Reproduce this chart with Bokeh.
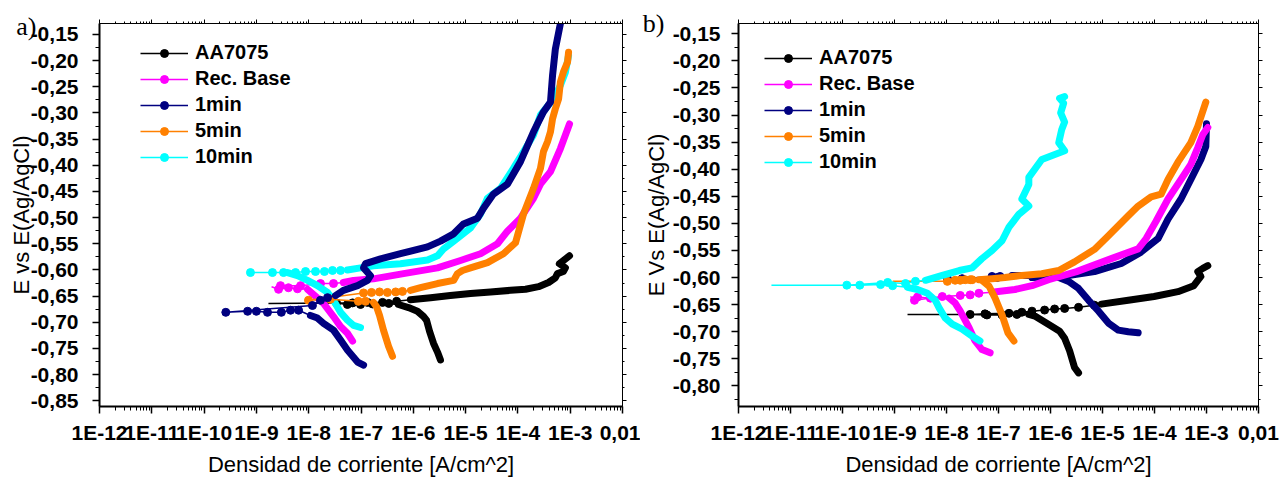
from bokeh.plotting import figure
from bokeh.layouts import row
from bokeh.models import (FixedTicker, CustomJSTickFormatter, LogAxis, LinearAxis,
                          Legend, LegendItem, Range1d)
from bokeh.embed import file_html
from bokeh.resources import INLINE

# ---------------- tick labels ----------------
X_TICKS = [1e-12, 1e-11, 1e-10, 1e-9, 1e-8, 1e-7, 1e-6, 1e-5, 1e-4, 1e-3, 1e-2]
X_TICK_LABELS = ["1E-12", "1E-11", "1E-10", "1E-9", "1E-8", "1E-7", "1E-6",
                 "1E-5", "1E-4", "1E-3", "0,01"]
Y_TICKS = [-0.85, -0.80, -0.75, -0.70, -0.65, -0.60, -0.55, -0.50, -0.45,
           -0.40, -0.35, -0.30, -0.25, -0.20, -0.15]

SERIES = ["AA7075", "Rec. Base", "1min", "5min", "10min"]
COLORS = ["#000000", "#FF00FF", "#000080", "#FF8000", "#00FFFF"]

# ---------------- panel a) data: (current A/cm2, E V) ----------------
A_AA7075_CATH = [(3.31e-6, -0.772), (2.90e-6, -0.757), (2.43e-6, -0.740), (2.04e-6, -0.717),
                 (1.79e-6, -0.696), (1.57e-6, -0.689), (1.20e-6, -0.679), (8.1e-7, -0.672),
                 (5.2e-7, -0.666)]
A_AA7075_CORR = [(3.4e-7, -0.664), (1.66e-7, -0.665), (9.8e-8, -0.666), (5.5e-8, -0.666),
                 (3.4e-8, -0.663), (6.9e-8, -0.663), (1.33e-7, -0.662), (2.58e-7, -0.662),
                 (4.8e-7, -0.660)]
A_AA7075_TAIL = (1.7e-9, -0.664)
A_AA7075_ANOD = [(8.8e-7, -0.657), (2.14e-6, -0.653), (5.1e-6, -0.649), (1.24e-5, -0.645),
                 (2.99e-5, -0.642), (7.2e-5, -0.639), (1.40e-4, -0.637), (2.48e-4, -0.632),
                 (3.85e-4, -0.624), (5.2e-4, -0.615), (5.7e-4, -0.607), (7.4e-4, -0.603),
                 (8.1e-4, -0.596), (6.2e-4, -0.588), (8.1e-4, -0.579), (9.7e-4, -0.573)]

A_REC_CATH = [(6.9e-8, -0.736), (5.5e-8, -0.721), (4.06e-8, -0.708), (2.98e-8, -0.689),
              (1.92e-8, -0.664), (1.24e-8, -0.647), (9.5e-9, -0.637)]
A_REC_CORR = [(6.1e-9, -0.636), (4.1e-9, -0.634), (2.65e-9, -0.637), (2.89e-9, -0.630),
              (7.0e-9, -0.630), (1.68e-8, -0.626), (2.98e-8, -0.626)]
A_REC_TAIL = (1.95e-9, -0.632)
A_REC_ANOD = [(4.6e-8, -0.624), (7.2e-8, -0.620), (1.73e-7, -0.617), (6.5e-7, -0.607),
              (2.90e-6, -0.596), (8.0e-6, -0.582), (1.93e-5, -0.569), (4.07e-5, -0.550),
              (6.3e-5, -0.526), (1.12e-4, -0.501), (1.99e-4, -0.463), (2.70e-4, -0.436),
              (4.2e-4, -0.412), (6.5e-4, -0.368), (8.1e-4, -0.342), (9.7e-4, -0.321)]

A_1MIN_CATH = [(1.12e-7, -0.782), (8.6e-8, -0.776), (5.5e-8, -0.753), (4.06e-8, -0.734),
               (2.98e-8, -0.715), (1.92e-8, -0.702), (1.47e-8, -0.692), (1.08e-8, -0.687)]
A_1MIN_CORR = [(6.4e-9, -0.677), (4.5e-9, -0.677), (3.0e-9, -0.681), (1.63e-9, -0.681),
               (1.0e-9, -0.679), (6.8e-10, -0.679), (2.6e-10, -0.681), (1.18e-8, -0.668),
               (1.68e-8, -0.658), (2.29e-8, -0.653)]
A_1MIN_TAIL = None
A_1MIN_ANOD = [(3.25e-8, -0.649), (4.6e-8, -0.639), (8.6e-8, -0.630), (1.33e-7, -0.620),
               (1.52e-7, -0.611), (1.12e-7, -0.596), (1.22e-7, -0.588), (2.36e-7, -0.579),
               (5.7e-7, -0.569), (1.87e-6, -0.556), (3.31e-6, -0.545), (5.9e-6, -0.531),
               (9.1e-6, -0.512), (1.69e-5, -0.501), (2.20e-5, -0.482), (3.41e-5, -0.455),
               (6.3e-5, -0.436), (1.12e-4, -0.393), (1.99e-4, -0.336), (3.08e-4, -0.298),
               (4.2e-4, -0.279), (4.6e-4, -0.228), (5.2e-4, -0.178), (6.5e-4, -0.129),
               (7.1e-4, -0.108)]

A_5MIN_CATH = [(4.0e-7, -0.765), (3.36e-7, -0.746), (2.69e-7, -0.715), (2.26e-7, -0.687),
               (1.98e-7, -0.670), (1.73e-7, -0.662)]
A_5MIN_CORR = [(1.22e-7, -0.660), (8.9e-8, -0.660), (2.6e-8, -0.656), (9.9e-9, -0.658),
               (1.12e-7, -0.644), (1.59e-7, -0.643), (2.26e-7, -0.642), (3.2e-7, -0.643),
               (4.6e-7, -0.642), (6.2e-7, -0.641)]
A_5MIN_TAIL = None
A_5MIN_ANOD = [(8.8e-7, -0.639), (1.37e-6, -0.634), (2.90e-6, -0.626), (5.9e-6, -0.620),
               (7.0e-6, -0.607), (8.7e-6, -0.601), (1.24e-5, -0.596), (2.62e-5, -0.586),
               (5.3e-5, -0.569), (9.0e-5, -0.548), (1.28e-4, -0.493), (1.99e-4, -0.444),
               (2.70e-4, -0.406), (3.08e-4, -0.374), (3.68e-4, -0.355), (4.2e-4, -0.336),
               (4.6e-4, -0.311), (5.2e-4, -0.292), (6.0e-4, -0.273), (6.5e-4, -0.241),
               (7.4e-4, -0.222), (8.9e-4, -0.203), (9.3e-4, -0.184)]

A_10MIN_CATH = [(9.8e-8, -0.710), (7.2e-8, -0.706), (5.5e-8, -0.696), (4.06e-8, -0.681),
                (2.98e-8, -0.658), (2.29e-8, -0.643), (1.47e-8, -0.630), (9.5e-9, -0.620),
                (6.1e-9, -0.611), (3.94e-9, -0.605)]
A_10MIN_CORR = [(3.3e-9, -0.605), (2.03e-9, -0.605), (7.7e-10, -0.605), (5.6e-9, -0.605),
                (8.7e-9, -0.603), (1.35e-8, -0.603), (2.0e-8, -0.603), (2.85e-8, -0.601),
                (4.06e-8, -0.601)]
A_10MIN_TAIL = None
A_10MIN_ANOD = [(5.5e-8, -0.600), (9.8e-8, -0.596), (1.73e-7, -0.592), (5.7e-7, -0.588),
                (1.87e-6, -0.581), (2.90e-6, -0.573), (3.78e-6, -0.560), (5.9e-6, -0.545),
                (1.24e-5, -0.520), (1.93e-5, -0.493), (2.62e-5, -0.463), (4.65e-5, -0.444),
                (8.2e-5, -0.406), (1.28e-4, -0.374), (1.99e-4, -0.342), (2.70e-4, -0.304),
                (4.8e-4, -0.273), (6.5e-4, -0.247), (8.1e-4, -0.222), (9.3e-4, -0.190)]

# ---------------- panel b) data ----------------
B_AA7075_CATH = [(3.46e-6, -0.776), (2.90e-6, -0.766), (2.33e-6, -0.735), (1.87e-6, -0.712),
                 (1.50e-6, -0.699), (1.05e-6, -0.690), (6.8e-7, -0.679), (5.0e-7, -0.671),
                 (3.83e-7, -0.668)]
B_AA7075_CORR = [(2.26e-7, -0.668), (1.17e-7, -0.669), (6.0e-8, -0.669), (2.85e-8, -0.668),
                 (5.5e-8, -0.667), (1.59e-7, -0.666), (2.81e-7, -0.664), (4.4e-7, -0.662),
                 (7.7e-7, -0.660), (1.20e-6, -0.658), (1.87e-6, -0.657), (3.46e-6, -0.655),
                 (7.0e-6, -0.651)]
B_AA7075_TAIL = (1.78e-9, -0.668)
B_AA7075_ANOD = [(9.5e-6, -0.649), (3.13e-5, -0.642), (9.8e-5, -0.635), (2.82e-4, -0.626),
                 (5.7e-4, -0.615), (7.8e-4, -0.598), (6.8e-4, -0.589), (8.5e-4, -0.583),
                 (1.06e-3, -0.578)]

B_REC_CATH = [(6.9e-8, -0.739), (4.8e-8, -0.733), (3.55e-8, -0.717), (2.73e-8, -0.693),
              (1.84e-8, -0.662), (1.47e-8, -0.647), (1.13e-8, -0.638)]
B_REC_CORR = [(4.9e-9, -0.638), (2.77e-9, -0.636), (2.42e-9, -0.642), (8.3e-9, -0.635),
              (1.84e-8, -0.633), (2.85e-8, -0.632), (4.2e-8, -0.629)]
B_REC_TAIL = (2.03e-9, -0.635)
B_REC_ANOD = [(7.5e-8, -0.627), (2.07e-7, -0.622), (4.4e-7, -0.615), (9.2e-7, -0.604),
              (3.17e-6, -0.589), (1.48e-5, -0.565), (4.85e-5, -0.547), (6.9e-5, -0.528),
              (1.07e-4, -0.496), (1.82e-4, -0.455), (3.23e-4, -0.419), (5.0e-4, -0.391),
              (6.8e-4, -0.360), (8.5e-4, -0.336), (1.06e-3, -0.323)]

B_1MIN_CATH = [(4.85e-5, -0.702), (3.13e-5, -0.700), (2.01e-5, -0.697), (1.30e-5, -0.684),
               (8.4e-6, -0.662), (5.4e-6, -0.642), (3.46e-6, -0.620), (2.23e-6, -0.607),
               (1.44e-6, -0.600), (7.7e-7, -0.596), (3.83e-7, -0.596), (1.81e-7, -0.596)]
B_1MIN_CORR = [(1.07e-7, -0.598), (7.5e-8, -0.598), (2.0e-8, -0.602), (1.04e-8, -0.602),
               (9.4e-8, -0.600)]
B_1MIN_TAIL = None
B_1MIN_ANOD = [(4.4e-7, -0.600), (1.64e-6, -0.598), (7.0e-6, -0.589), (2.30e-5, -0.574),
               (5.5e-5, -0.553), (1.17e-4, -0.528), (1.82e-4, -0.492), (3.23e-4, -0.455),
               (5.0e-4, -0.419), (7.8e-4, -0.382), (9.7e-4, -0.358), (1.0e-3, -0.316)]

B_5MIN_CATH = [(1.98e-7, -0.717), (1.52e-7, -0.702), (1.17e-7, -0.669), (8.6e-8, -0.638),
               (6.6e-8, -0.616), (4.8e-8, -0.605)]
B_5MIN_CORR = [(2.85e-8, -0.604), (1.84e-8, -0.605), (1.04e-8, -0.607), (1.47e-8, -0.605),
               (2.29e-8, -0.604), (3.1e-8, -0.604)]
B_5MIN_TAIL = (9.2e-10, -0.607)
B_5MIN_ANOD = [(4.2e-8, -0.604), (7.5e-8, -0.602), (1.33e-7, -0.600), (2.81e-7, -0.596),
               (6.8e-7, -0.593), (1.44e-6, -0.587), (2.90e-6, -0.571), (7.0e-6, -0.548),
               (1.30e-5, -0.523), (3.13e-5, -0.486), (4.86e-5, -0.468), (8.6e-5, -0.451),
               (1.34e-4, -0.446), (1.82e-4, -0.419), (2.82e-4, -0.387), (5.0e-4, -0.351),
               (6.8e-4, -0.321), (9.7e-4, -0.276)]

B_10MIN_CATH = [(4.4e-8, -0.717), (3.1e-8, -0.708), (2.0e-8, -0.695), (1.29e-8, -0.686),
                (9.5e-9, -0.675), (7.3e-9, -0.657), (6.1e-9, -0.642), (4.3e-9, -0.629),
                (2.77e-9, -0.622), (1.78e-9, -0.618)]
B_10MIN_CORR = [(9.2e-10, -0.615), (5.4e-10, -0.613), (2.15e-10, -0.614), (1.21e-10, -0.614),
                (7.4e-10, -0.609), (1.63e-9, -0.611), (2.53e-9, -0.607)]
B_10MIN_TAIL = (4.3e-12, -0.614)
B_10MIN_ANOD = [(3.94e-9, -0.605), (8.3e-9, -0.596), (1.76e-8, -0.587), (3.1e-8, -0.582),
                (4.8e-8, -0.565), (7.5e-8, -0.550), (1.17e-7, -0.532), (1.59e-7, -0.507),
                (2.47e-7, -0.483), (3.83e-7, -0.468), (2.81e-7, -0.455), (3.83e-7, -0.428),
                (3.83e-7, -0.415), (6.8e-7, -0.382), (1.87e-6, -0.366), (1.44e-6, -0.351),
                (1.64e-6, -0.327), (1.87e-6, -0.313), (1.57e-6, -0.296), (1.79e-6, -0.278),
                (1.50e-6, -0.269), (1.87e-6, -0.266)]

PANEL_A = {
    "AA7075": (A_AA7075_CATH, A_AA7075_CORR, A_AA7075_TAIL, A_AA7075_ANOD),
    "Rec. Base": (A_REC_CATH, A_REC_CORR, A_REC_TAIL, A_REC_ANOD),
    "1min": (A_1MIN_CATH, A_1MIN_CORR, A_1MIN_TAIL, A_1MIN_ANOD),
    "5min": (A_5MIN_CATH, A_5MIN_CORR, A_5MIN_TAIL, A_5MIN_ANOD),
    "10min": (A_10MIN_CATH, A_10MIN_CORR, A_10MIN_TAIL, A_10MIN_ANOD),
}
PANEL_B = {
    "AA7075": (B_AA7075_CATH, B_AA7075_CORR, B_AA7075_TAIL, B_AA7075_ANOD),
    "Rec. Base": (B_REC_CATH, B_REC_CORR, B_REC_TAIL, B_REC_ANOD),
    "1min": (B_1MIN_CATH, B_1MIN_CORR, B_1MIN_TAIL, B_1MIN_ANOD),
    "5min": (B_5MIN_CATH, B_5MIN_CORR, B_5MIN_TAIL, B_5MIN_ANOD),
    "10min": (B_10MIN_CATH, B_10MIN_CORR, B_10MIN_TAIL, B_10MIN_ANOD),
}

FONT = "Liberation Sans"
SERIF = "Liberation Serif"
X_MINOR = [m * 10.0 ** e for e in range(-12, -2) for m in range(2, 10)]
Y_MINOR = [round(-0.875 + 0.025 * k, 3) for k in range(32)]

x_fmt_code = "const k = Math.round(Math.log10(tick)) + 12; return labels[k];"
y_fmt_code = "return tick.toFixed(2).replace('.', ',');"


def xs(pts):
    return [q[0] for q in pts]


def ys(pts):
    return [q[1] for q in pts]


def make_fig(width, bl, br, bt, bb, yr, ylab_standoff):
    p = figure(width=width, height=479, x_axis_type="log",
               x_range=Range1d(1e-12, 1e-2), y_range=Range1d(*yr),
               output_backend="svg", toolbar_location=None,
               min_border_left=bl, min_border_right=br,
               min_border_top=bt, min_border_bottom=bb)
    p.grid.visible = False
    p.outline_line_color = "black"
    p.outline_line_width = 1
    p.background_fill_color = "white"
    p.border_fill_color = "white"

    xa = p.xaxis[0]
    xa.ticker = FixedTicker(ticks=X_TICKS, minor_ticks=X_MINOR)
    xa.formatter = CustomJSTickFormatter(args=dict(labels=X_TICK_LABELS), code=x_fmt_code)
    ya = p.yaxis[0]
    ya.ticker = FixedTicker(ticks=Y_TICKS, minor_ticks=Y_MINOR)
    ya.formatter = CustomJSTickFormatter(code=y_fmt_code)
    for ax in (xa, ya):
        ax.axis_line_width = 2
        ax.axis_line_color = "black"
        ax.major_tick_line_width = 1.5
        ax.minor_tick_line_width = 1
        ax.major_tick_line_color = "black"
        ax.minor_tick_line_color = "black"
        ax.major_tick_in = 0
        ax.major_tick_out = 7
        ax.minor_tick_in = 0
        ax.minor_tick_out = 4
        ax.major_label_text_font = FONT
        ax.major_label_text_font_style = "bold"
        ax.major_label_text_font_size = "21px"
        ax.major_label_text_color = "black"
    xa.major_label_standoff = 7
    ya.major_label_standoff = ylab_standoff
    xa.axis_label = "Densidad de corriente [A/cm^2]"
    xa.axis_label_text_font = FONT
    xa.axis_label_text_font_style = "normal"
    xa.axis_label_text_font_size = "22px"
    xa.axis_label_text_color = "black"
    xa.axis_label_standoff = 5

    top = LogAxis(ticker=FixedTicker(ticks=X_TICKS, minor_ticks=X_MINOR),
                  formatter=CustomJSTickFormatter(code="return '';"),
                  major_label_text_font_size="1px", major_label_standoff=0,
                  major_tick_in=0, major_tick_out=4, minor_tick_in=0, minor_tick_out=2)
    right = LinearAxis(ticker=FixedTicker(ticks=Y_TICKS, minor_ticks=Y_MINOR),
                       formatter=CustomJSTickFormatter(code="return '';"),
                       major_label_text_font_size="1px", major_label_standoff=0,
                       major_tick_in=0, major_tick_out=4, minor_tick_in=0, minor_tick_out=2)
    p.add_layout(top, "above")
    p.add_layout(right, "right")
    return p


def add_outer_axis(p, tag, tag_y, ylabel, tag_standoff, label_standoff):
    # invisible outer axis carrying the panel tag and the y-axis title
    ax = LinearAxis(ticker=FixedTicker(ticks=[tag_y], minor_ticks=[]),
                    formatter=CustomJSTickFormatter(args=dict(tag=tag), code="return tag;"),
                    axis_line_color=None, major_tick_line_color=None,
                    minor_tick_line_color=None, major_tick_in=0, major_tick_out=0,
                    minor_tick_in=0, minor_tick_out=0,
                    major_label_standoff=tag_standoff,
                    major_label_text_font=SERIF, major_label_text_font_size="26px",
                    major_label_text_font_style="normal", major_label_text_color="black",
                    axis_label=ylabel, axis_label_standoff=label_standoff,
                    axis_label_text_font=FONT, axis_label_text_font_size="22px",
                    axis_label_text_font_style="normal", axis_label_text_color="black")
    p.add_layout(ax, "left")


def draw_series(p, color, cath, corr, tail, anod):
    thin_path = cath[-1:] + corr + anod[:1]
    thin = p.line(xs(thin_path), ys(thin_path), line_color=color, line_width=1.5)
    if tail is not None:
        left = min(corr, key=lambda q: q[0])
        p.line([tail[0], left[0]], [tail[1], left[1]], line_color=color, line_width=1.5)
    for seg in (cath, anod):
        p.line(xs(seg), ys(seg), line_color=color, line_width=7,
               line_join="round", line_cap="round")
    dots = p.scatter(xs(corr), ys(corr), size=8, marker="circle",
                     fill_color=color, line_color=color)
    return thin, dots


def build_panel(p, data, order, legend_loc):
    handles = {}
    for name in order:
        color = COLORS[SERIES.index(name)]
        handles[name] = draw_series(p, color, *data[name])
    items = [LegendItem(label=n, renderers=list(handles[n])) for n in SERIES]
    leg = Legend(items=items, location=legend_loc, border_line_color=None,
                 background_fill_alpha=0, glyph_width=48, glyph_height=20,
                 label_height=20, label_standoff=7, spacing=3, padding=5,
                 label_text_font=FONT, label_text_font_style="bold",
                 label_text_font_size="20px", label_text_color="black")
    p.add_layout(leg)


# panel a
YR_A = (-0.861, -0.129)
pa = make_fig(640, 99, 18, 21, 72, YR_A, 14)
add_outer_axis(pa, "a)", -0.1348, "E vs E(Ag/AgCl)", -9, -21)
build_panel(pa, PANEL_A, ["AA7075", "Rec. Base", "10min", "5min", "1min"], (41, 238))

# panel b
YR_B = (-0.838, -0.131)
pb = make_fig(646, 95, 28, 23, 70, YR_B, 11)
add_outer_axis(pb, "b)", -0.1315, "E Vs E(Ag/AgCl)", 5, -29)
build_panel(pb, PANEL_B, ["AA7075", "1min", "Rec. Base", "5min", "10min"], (26, 233))

layout = row(pa, pb)
open("out.html", "w").write(file_html(layout, INLINE))
